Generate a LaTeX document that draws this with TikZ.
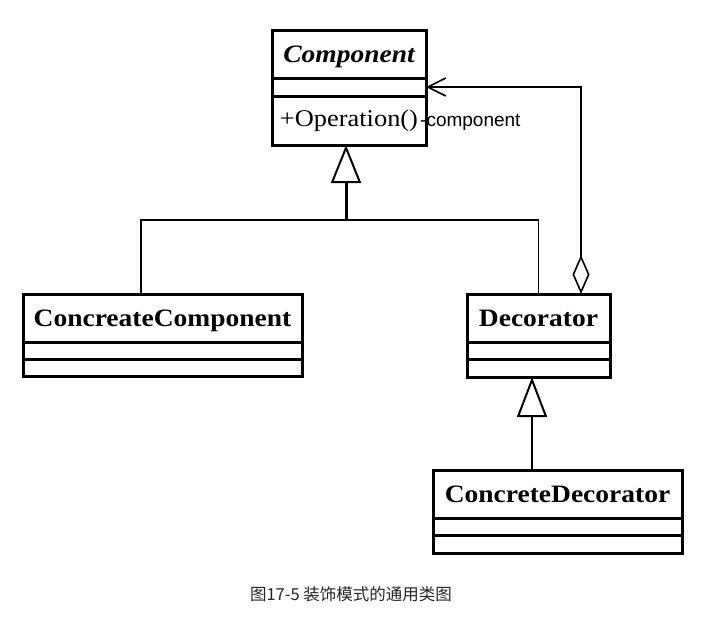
\documentclass[tikz,border=0pt]{standalone}
\usepackage{fontspec}
\newfontfamily\umlserif[FakeStretch=1.1]{Liberation Serif}
\newfontfamily\umlsans{Liberation Sans}
\newfontfamily\cjk{Noto Sans CJK SC}
\usetikzlibrary{positioning,arrows.meta}

\tikzset{
	classname/.style={draw, line width=3pt, outer sep=0pt, inner sep=0pt, minimum height=48pt,
		text depth=0pt, font=\umlserif\fontsize{25}{25}\selectfont\bfseries},
	slot/.style={draw, line width=3pt, outer sep=0pt, inner sep=0pt,
		font=\umlserif\fontsize{24}{24}\selectfont},
	link/.style={line width=1.6pt},
}

\begin{document}
\begin{tikzpicture}[x=1pt,y=-1pt]
	\fill [white] (0,0) rectangle (703,633);
	\useasboundingbox (0,0) rectangle (703,633);
	
	% Component
	\node [classname, minimum width=154pt] (comp) at (349,54) {\itshape Component};
	\node [slot, minimum width=154pt, minimum height=18pt, below=0pt of comp] (compattr) {};
	\node [slot, minimum width=154pt, minimum height=49pt, below=0pt of compattr] (compops) {+Operation()};
	
	% ConcreateComponent
	\node [classname, minimum width=279pt] (ccomp) at (162.5,318) {ConcreateComponent};
	\node [slot, minimum width=279pt, minimum height=17pt, below=0pt of ccomp] (ccompattr) {};
	\node [slot, minimum width=279pt, minimum height=17pt, below=0pt of ccompattr] (ccompops) {};
	
	% Decorator
	\node [classname, minimum width=143pt] (dec) at (538.5,318) {Decorator};
	\node [slot, minimum width=143pt, minimum height=17pt, below=0pt of dec] (decattr) {};
	\node [slot, minimum width=143pt, minimum height=18pt, below=0pt of decattr] (decops) {};
	
	% ConcreteDecorator
	\node [classname, minimum width=249pt] (cdec) at (557.5,494) {ConcreteDecorator};
	\node [slot, minimum width=249pt, minimum height=17pt, below=0pt of cdec] (cdecattr) {};
	\node [slot, minimum width=249pt, minimum height=18pt, below=0pt of cdecattr] (cdecops) {};
	
	% generalization to Component
	\coordinate (join) at (346,220);
	\draw [link] ([xshift=-21.5pt]ccomp.north) |- (join) -| (dec.north);
	\draw [line width=3pt, -{Triangle[open, length=38pt, width=30pt, line width=2pt]}]
		(join) -- (join |- compops.south);
	
	% generalization to Decorator
	\draw [line width=2pt, -{Triangle[open, length=40pt, width=30pt, line width=2pt]}]
		([xshift=-25.5pt]cdec.north) -- ([xshift=-6.5pt]decops.south);
	
	% aggregation
	\draw [link, {Diamond[open, length=39pt, width=17pt]}-{Straight Barb[length=18pt, width=18pt]}]
		([xshift=42.5pt]dec.north) |- (compattr.east);
	\node [anchor=west, inner sep=0pt, font=\umlsans\fontsize{19}{19}\selectfont] (role)
		at ([xshift=-6pt,yshift=-2pt]compops.east) {-component};
	
	% caption
	\node [font=\cjk\fontsize{16.5}{16.5}\selectfont, text=black!85] (cap) at (351,594) {图17-5 装饰模式的通用类图};
\end{tikzpicture}
\end{document}
